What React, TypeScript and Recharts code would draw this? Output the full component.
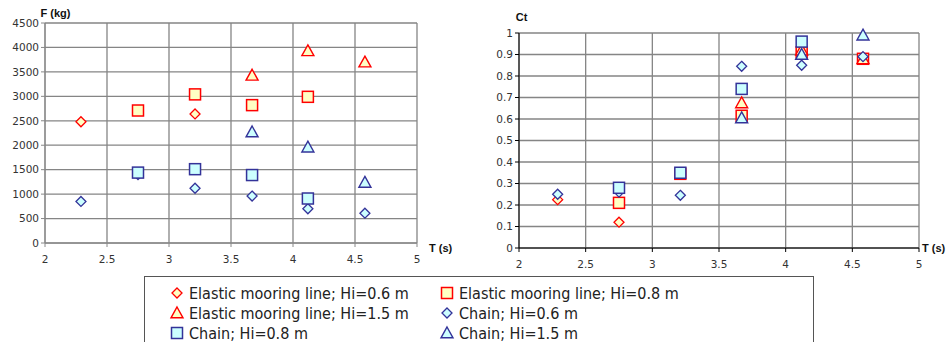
import React from 'react'
import { ScatterChart, Scatter, XAxis, YAxis, CartesianGrid } from 'recharts'

// wave periods T (s)
const periods = [2.29, 2.75, 3.21, 3.67, 4.12, 4.58]

// mooring force F (kg), null = not measured
const forceElastic06 = [2480, null, 2640, null, null, null]
const forceElastic08 = [null, 2710, 3040, 2820, 2990, null]
const forceElastic15 = [null, null, null, 3430, 3930, 3700]
const forceChain06 = [850, 1400, 1120, 960, 700, 610]
const forceChain08 = [null, 1440, 1510, 1390, 910, null]
const forceChain15 = [null, null, null, 2270, 1960, 1240]

// transmission coefficient Ct
const ctElastic06 = [0.225, 0.12, null, null, null, null]
const ctElastic08 = [null, 0.21, 0.345, 0.615, 0.91, 0.88]
const ctElastic15 = [null, null, null, 0.675, 0.92, 0.88]
const ctChain06 = [0.25, 0.26, 0.245, 0.845, 0.85, 0.89]
const ctChain08 = [null, 0.28, 0.35, 0.74, 0.96, null]
const ctChain15 = [null, null, null, 0.605, 0.9, 0.99]

const xTicks = [2, 2.5, 3, 3.5, 4, 4.5, 5]
const forceTicks = [0, 500, 1000, 1500, 2000, 2500, 3000, 3500, 4000, 4500]
const ctTicks = [0, 0.1, 0.2, 0.3, 0.4, 0.5, 0.6, 0.7, 0.8, 0.9, 1]

type Shape = 'diamond' | 'square' | 'triangle'

const RED = { stroke: '#ff0000', fill: '#ffffc4' }
const BLUE = { stroke: '#333399', fill: '#ccffff' }

const series = [
  { name: 'Elastic mooring line; Hi=0.6 m', shape: 'diamond' as Shape, col: RED, f: forceElastic06, ct: ctElastic06 },
  { name: 'Elastic mooring line; Hi=0.8 m', shape: 'square' as Shape, col: RED, f: forceElastic08, ct: ctElastic08 },
  { name: 'Elastic mooring line; Hi=1.5 m', shape: 'triangle' as Shape, col: RED, f: forceElastic15, ct: ctElastic15 },
  { name: 'Chain; Hi=0.6 m', shape: 'diamond' as Shape, col: BLUE, f: forceChain06, ct: ctChain06 },
  { name: 'Chain; Hi=0.8 m', shape: 'square' as Shape, col: BLUE, f: forceChain08, ct: ctChain08 },
  { name: 'Chain; Hi=1.5 m', shape: 'triangle' as Shape, col: BLUE, f: forceChain15, ct: ctChain15 },
]

const toPoints = (vals: (number | null)[]) =>
  periods.map((x, i) => ({ x, y: vals[i] })).filter(p => p.y !== null)

const MarkerPath = ({ shape, cx, cy, col }: { shape: Shape; cx: number; cy: number; col: { stroke: string; fill: string } }) => {
  if (shape === 'diamond') {
    const r = 5
    return <path d={`M${cx},${cy - r}L${cx + r},${cy}L${cx},${cy + r}L${cx - r},${cy}Z`} fill={col.fill} stroke={col.stroke} strokeWidth={1.3} />
  }
  if (shape === 'square') {
    const r = 5.5
    return <rect x={cx - r} y={cy - r} width={2 * r} height={2 * r} fill={col.fill} stroke={col.stroke} strokeWidth={1.5} />
  }
  const r = 6
  return <path d={`M${cx},${cy - r}L${cx + r},${cy + r * 0.8}L${cx - r},${cy + r * 0.8}Z`} fill={col.fill} stroke={col.stroke} strokeWidth={1.4} />
}

const tickStyle = { fontFamily: 'DejaVu Sans', fontSize: 10.5, fill: '#333' }
const labelStyle = { fontFamily: 'Liberation Sans', fontSize: 11, fontWeight: 'bold', fill: '#111' }

const App: React.FC = () => {
  return (
    <div style={{ position: 'absolute', left: 0, top: 0, width: 946, height: 342, background: '#fff', overflow: 'hidden' }}>
      <div style={{ position: 'absolute', left: 0, top: 0 }}>
        <ScatterChart width={470} height={270} margin={{ top: 23, right: 53, bottom: 3, left: 0 }}>
          <CartesianGrid stroke="#858585" strokeWidth={1.3} />
          <XAxis
            type="number" dataKey="x" domain={[2, 5]} ticks={xTicks} interval={0}
            tick={tickStyle} tickSize={4} tickMargin={9} height={24} stroke="#888"
            label={{ value: 'T (s)', position: 'right', offset: 12, dy: -7, style: labelStyle }}
          />
          <YAxis
            type="number" dataKey="y" domain={[0, 4500]} ticks={forceTicks} interval={0}
            tick={tickStyle} tickSize={4} width={45} stroke="#888"
            label={{ value: 'F (kg)', position: 'top', offset: 6, dx: 33, style: labelStyle }}
          />
          {series.map(s => (
            <Scatter
              key={s.name} name={s.name} data={toPoints(s.f)} isAnimationActive={false}
              shape={(p: any) => <MarkerPath shape={s.shape} cx={p.cx} cy={p.cy} col={s.col} />}
            />
          ))}
        </ScatterChart>
      </div>
      <div style={{ position: 'absolute', left: 470, top: 0 }}>
        <ScatterChart width={476} height={272} margin={{ top: 33, right: 27, bottom: 0, left: 0 }}>
          <CartesianGrid stroke="#858585" strokeWidth={1.3} />
          <XAxis
            type="number" dataKey="x" domain={[2, 5]} ticks={xTicks} interval={0}
            tick={tickStyle} tickSize={4} tickMargin={9} height={24} stroke="#000"
            label={{ value: 'T (s)', position: 'right', offset: 3, dy: -12, style: labelStyle }}
          />
          <YAxis
            type="number" dataKey="y" domain={[0, 1]} ticks={ctTicks} interval={0}
            tick={tickStyle} tickSize={4} width={49} stroke="#000"
            label={{ value: 'Ct', position: 'top', offset: 12, dx: 27, style: labelStyle }}
          />
          {series.map(s => (
            <Scatter
              key={s.name} name={s.name} data={toPoints(s.ct)} isAnimationActive={false}
              shape={(p: any) => <MarkerPath shape={s.shape} cx={p.cx} cy={p.cy} col={s.col} />}
            />
          ))}
        </ScatterChart>
      </div>
      <div style={{
        position: 'absolute', left: 144, top: 276, width: 670, height: 80,
        border: '1.5px solid #555', boxSizing: 'border-box', background: '#fff',
        fontFamily: '"Liberation Sans Narrow", "DejaVu Sans Condensed", "Liberation Sans", sans-serif',
        fontSize: 16, color: '#222',
      }}>
        {series.map((s, i) => (
          <div key={s.name} style={{
            position: 'absolute', left: i % 2 === 0 ? 24 : 294, top: 6 + Math.floor(i / 2) * 20,
            display: 'flex', alignItems: 'center', height: 20, whiteSpace: 'nowrap',
          }}>
            <svg width={16} height={16} style={{ marginRight: 4 }}>
              <MarkerPath shape={s.shape} cx={8} cy={8} col={s.col} />
            </svg>
            <span>{s.name}</span>
          </div>
        ))}
      </div>
    </div>
  )
}

export default App
